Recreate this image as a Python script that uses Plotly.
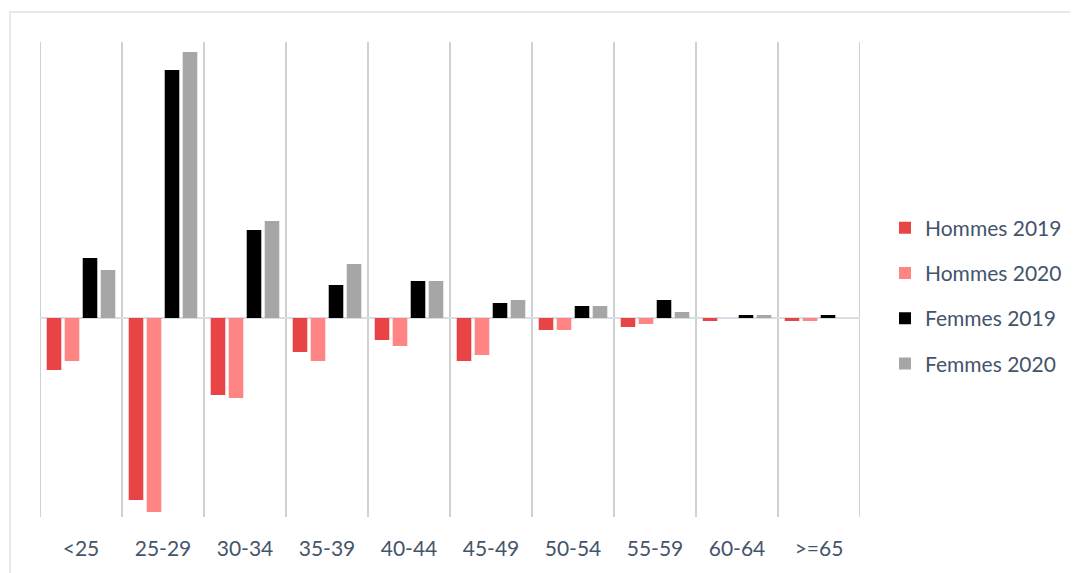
import plotly.graph_objects as go

categories = ["<25", "25-29", "30-34", "35-39", "40-44", "45-49", "50-54", "55-59", "60-64", ">=65"]
hommes_2019 = [-52, -182, -77, -34, -22, -43, -12, -9, -3, -3]
hommes_2020 = [-43, -194, -80, -43, -28, -37, -12, -6, 0, -3]
femmes_2019 = [60, 248, 88, 33, 37, 15, 12, 18, 3, 3]
femmes_2020 = [48, 266, 97, 54, 37, 18, 12, 6, 3, 0]

series = [
    ("Hommes 2019", hommes_2019, "#E84446"),
    ("Hommes 2020", hommes_2020, "#FF8585"),
    ("Femmes 2019", femmes_2019, "#000000"),
    ("Femmes 2020", femmes_2020, "#A6A6A6"),
]

FONT = "Lato"
TXT = "#44546A"
GRID = "#D0D0D0"

fig = go.Figure()
for i, (name, vals, col) in enumerate(series):
    fig.add_trace(go.Bar(x=categories, y=vals, name=name, marker=dict(color=col, line=dict(width=0)),
                         legendgroup=f"g{i}"))

# page is rendered with an 8px body margin -> work in figure coordinates
OFF = 8
W, H = 1078, 573
L, T = 40 - OFF, 42 - OFF
R = W - (860 - OFF)
B = H - (517 - OFF)
pw, ph = W - L - R, H - T - B

def px_x(px):  # page pixel -> paper x
    return (px - OFF - L) / pw

def px_y(py):  # page pixel -> paper y
    return (H - B - (py - OFF)) / ph

edge_lines = [dict(type="line", xref="x", yref="paper", x0=xv, x1=xv, y0=0, y1=1,
                   line=dict(color=GRID, width=2), layer="below")
              for xv in (-0.5, len(categories) - 0.5)]

fig.update_layout(
    width=W, height=H,
    margin=dict(l=L, r=R, t=T, b=B, autoexpand=False),
    paper_bgcolor="white", plot_bgcolor="white",
    barmode="group", bargap=0.122, bargroupgap=0.19,
    font=dict(family=FONT, size=21, color=TXT),
    showlegend=True,
    legend=dict(x=px_x(885), xanchor="left", y=px_y(296), yanchor="middle",
                traceorder="grouped", tracegroupgap=15, font=dict(family=FONT, size=21, color=TXT),
                bgcolor="rgba(0,0,0,0)"),
    xaxis=dict(type="category", tickson="boundaries", showgrid=True, gridcolor=GRID, gridwidth=2,
               showline=False, zeroline=False, ticks="", ticklabelstandoff=17,
               tickfont=dict(family=FONT, size=21, color=TXT), range=[-0.5, 9.5], automargin=False),
    yaxis=dict(range=[-199, 276], showgrid=False, showticklabels=False, ticks="",
               zeroline=True, zerolinecolor="#D9DEE6", zerolinewidth=2, showline=False, automargin=False),
    shapes=edge_lines + [dict(type="rect", xref="paper", yref="paper",
                 x0=px_x(10), x1=px_x(1300), y0=px_y(800), y1=px_y(12),
                 line=dict(color="#DCE2E9", width=1.5), fillcolor="rgba(0,0,0,0)", layer="below")],
)

fig.write_html("out.html")
